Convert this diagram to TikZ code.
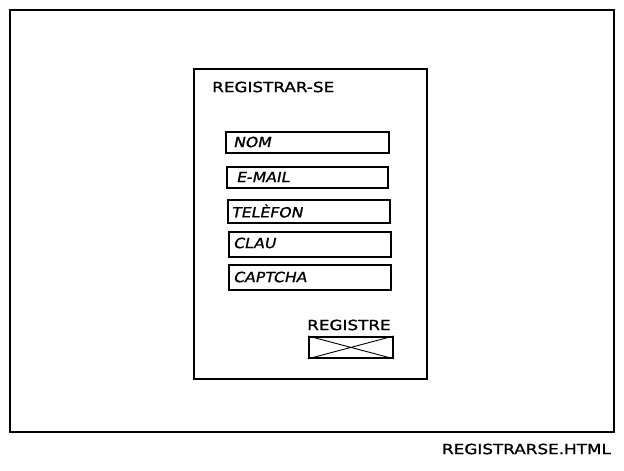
\documentclass[tikz,border=0pt]{standalone}
\usepackage{fontspec}
\setmainfont{DejaVu Sans}
\newfontfamily\sketchfont[FakeStretch=1.2,FakeBold=1.2]{DejaVu Sans}
\newfontfamily\sketchital[FakeStretch=1.12,FakeSlant=0.2,FakeBold=1.2]{DejaVu Sans}
\begin{document}
\begin{tikzpicture}[x=1pt,y=-1pt,
  frame/.style={draw=black,line width=1.6pt},
  field/.style={draw=black,line width=1.6pt},
  lbl/.style={font=\sketchfont\fontsize{14}{16}\selectfont,inner sep=0pt,anchor=west},
  flbl/.style={font=\sketchital\fontsize{14}{16}\selectfont,inner sep=0pt,anchor=west}]
\useasboundingbox (0,0) rectangle (624,471);
\fill[white] (0,0) rectangle (624,471);
\draw[frame] (10,10) rectangle (614,432);
\node[frame,minimum width=233pt,minimum height=310pt,anchor=north west,inner sep=0pt] (panel) at (193,68) {};
\node[lbl] (title) at (212,87) {REGISTRAR-SE};
\node[field,anchor=north west,minimum width=163pt,minimum height=21pt,inner sep=0pt] (nom) at (225,131) {};
\node[flbl] at (233,142) {NOM};
\node[field,anchor=north west,minimum width=161pt,minimum height=21pt,inner sep=0pt] (email) at (226,166) {};
\node[flbl] at (236,177) {E-MAIL};
\node[field,anchor=north west,minimum width=162pt,minimum height=23pt,inner sep=0pt] (tel) at (227,199) {};
\node[flbl] at (231,211) {TELÈFON};
\node[field,anchor=north west,minimum width=162pt,minimum height=25pt,inner sep=0pt] (clau) at (228,231) {};
\node[flbl] at (233,243) {CLAU};
\node[field,anchor=north west,minimum width=162pt,minimum height=25pt,inner sep=0pt] (captcha) at (228,264) {};
\node[flbl] at (233,277) {CAPTCHA};
\node[lbl] (btnlbl) at (307,325) {REGISTRE};
\node[draw=black,line width=1.8pt,anchor=north west,minimum width=84pt,minimum height=21pt,inner sep=0pt] (btn) at (308,336) {};
\draw[line width=0.9pt] (btn.north west) -- (btn.south east) (btn.south west) -- (btn.north east);
\node[lbl,anchor=east] (file) at (611,449) {REGISTRARSE.HTML};
\end{tikzpicture}
\end{document}
